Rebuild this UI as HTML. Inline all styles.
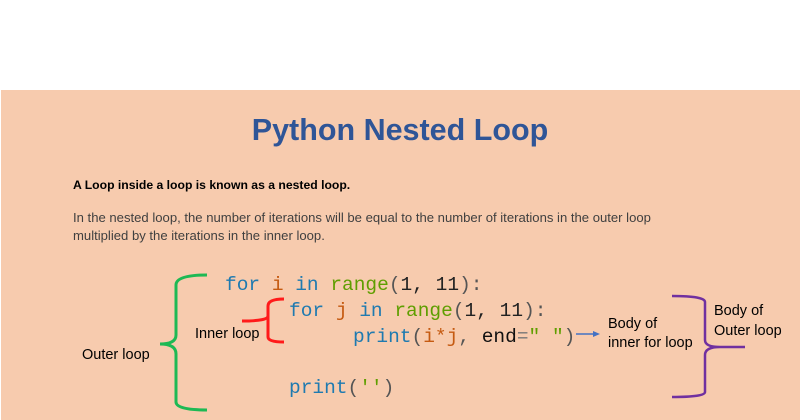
<!DOCTYPE html>
<html><head><style>
html,body{margin:0;padding:0;background:#fff;}
svg{display:block}
.m{font-family:"Liberation Mono",monospace;font-size:19.5px}
.s{font-family:"Liberation Sans",sans-serif}
</style></head><body>
<svg width="800" height="420" viewBox="0 0 800 420" xmlns="http://www.w3.org/2000/svg">
<rect x="1" y="90" width="799" height="330" fill="#f7cbae"/>
<text x="400" y="140" text-anchor="middle" class="s" font-size="30.5" font-weight="bold" fill="#2f5597">Python Nested Loop</text>
<text x="73" y="189" class="s" font-size="12.2" font-weight="bold" fill="#000">A Loop inside a loop is known as a nested loop.</text>
<text x="73" y="222" class="s" font-size="13.1" fill="#404040">In the nested loop, the number of iterations will be equal to the number of iterations in the outer loop</text>
<text x="73" y="240" class="s" font-size="13.1" fill="#404040">multiplied by the iterations in the inner loop.</text>
<text x="225" y="290" class="m"><tspan fill="#1f7ab0">for </tspan><tspan fill="#c55a11">i</tspan><tspan fill="#1f7ab0"> in </tspan><tspan fill="#5f9e00">range</tspan><tspan fill="#555">(</tspan><tspan fill="#222">1, 11</tspan><tspan fill="#555">):</tspan></text>
<text x="289" y="316" class="m"><tspan fill="#1f7ab0">for </tspan><tspan fill="#c55a11">j</tspan><tspan fill="#1f7ab0"> in </tspan><tspan fill="#5f9e00">range</tspan><tspan fill="#555">(</tspan><tspan fill="#222">1, 11</tspan><tspan fill="#555">):</tspan></text>
<text x="353" y="342" class="m"><tspan fill="#1f7ab0">print</tspan><tspan fill="#555">(</tspan><tspan fill="#c55a11">i*j</tspan><tspan fill="#555">, </tspan><tspan fill="#111">end</tspan><tspan fill="#777">=</tspan><tspan fill="#5f9e00">" "</tspan><tspan fill="#555">)</tspan></text>
<text x="289" y="393" class="m"><tspan fill="#1f7ab0">print</tspan><tspan fill="#555">(</tspan><tspan fill="#5f9e00">''</tspan><tspan fill="#555">)</tspan></text>
<path d="M207 275 Q176 275 176 285 L176 335 Q176 344 160 344 Q176 344 176 354 L176 402 Q176 410 207 410" fill="none" stroke="#1db954" stroke-width="3"/>
<text x="82" y="359" class="s" font-size="14.5" fill="#000">Outer loop</text>
<path d="M284 299 Q268 299 268 306 L268 316 Q268 321 242 321 M268 316 Q268 321 268 326 L268 337 Q268 342 284 342" fill="none" stroke="#ff1a1a" stroke-width="3"/>
<text x="195" y="338" class="s" font-size="14.5" fill="#000">Inner loop</text>
<line x1="576" y1="334" x2="596" y2="334" stroke="#4472c4" stroke-width="1.5"/>
<path d="M600 334 L593 331 L593 337 Z" fill="#4472c4"/>
<text x="608" y="328" class="s" font-size="14.5" fill="#000">Body of</text>
<text x="608" y="347" class="s" font-size="14.5" fill="#000">inner for loop</text>
<path d="M672 296 Q705 296 705 302 L705 340 Q705 347 720 347 L745 347 M720 347 Q705 347 705 355 L705 392 Q705 397 672 397" fill="none" stroke="#7030a0" stroke-width="2.5"/>
<text x="714" y="315" class="s" font-size="14.5" fill="#000">Body of</text>
<text x="714" y="335" class="s" font-size="14.5" fill="#000">Outer loop</text>
</svg>
</body></html>
